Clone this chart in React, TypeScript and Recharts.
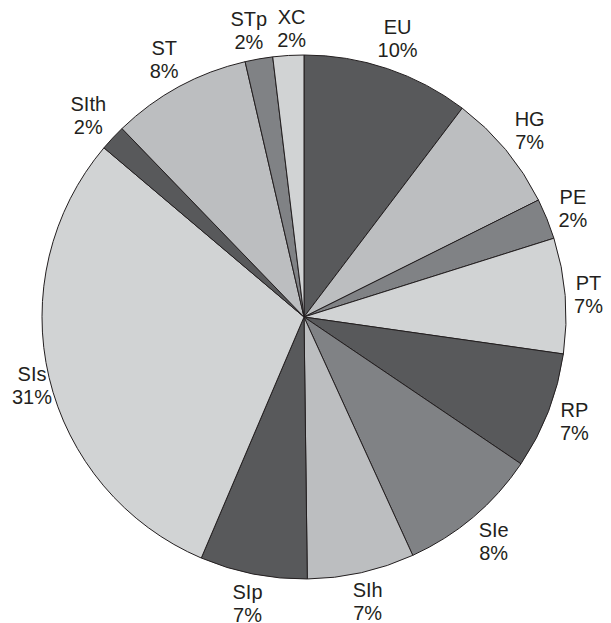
import React from "react";
import { Cell, Pie, PieChart } from "recharts";

// sector shares (degrees / 3.6), clockwise from 12 o'clock
const categories = ["EU", "HG", "PE", "PT", "RP", "SIe", "SIh", "SIp", "SIs", "SIth", "ST", "STp", "XC"];
const shares = [10.3, 7.3, 2.5, 7.1, 7.2, 8.7, 6.6, 6.6, 29.7, 1.6, 8.6, 1.7, 1.9];
// percentages as printed in the labels
const percentLabels = ["10%", "7%", "2%", "7%", "7%", "8%", "7%", "7%", "31%", "2%", "8%", "2%", "2%"];

const colors = [
  "#58595b", "#bcbec0", "#808285", "#d1d3d4", "#58595b", "#808285", "#bcbec0",
  "#58595b", "#d1d3d4", "#58595b", "#bcbec0", "#808285", "#d1d3d4",
];

const data = categories.map((name, i) => ({ name, value: shares[i], pct: percentLabels[i] }));
const total = shares.reduce((a, b) => a + b, 0);

const W = 611;
const H = 623;
const FONT = "20px 'Liberation Sans', Arial, sans-serif";
const RADIAN = Math.PI / 180;
const LABEL_H = 38;

let ctx: CanvasRenderingContext2D | null = null;
const textWidth = (s: string) => {
  if (!ctx) ctx = document.createElement("canvas").getContext("2d");
  if (!ctx) return s.length * 11;
  ctx.font = FONT;
  return ctx.measureText(s).width;
};

const labelWidth = (i: number) => Math.max(textWidth(data[i].name), textWidth(data[i].pct));

// label box sits just outside the rim, kept inside the chart area
const basePos = (i: number, midAngle: number, cx: number, cy: number, R: number) => {
  const ux = Math.cos(-midAngle * RADIAN);
  const uy = Math.sin(-midAngle * RADIAN);
  const w = labelWidth(i);
  const r = R + 7.5 + (w / 2) * Math.abs(ux) + (LABEL_H / 2) * Math.abs(uy);
  const x = Math.min(Math.max(cx + r * ux, w / 2 + 12), W - w / 2 - 8);
  return { x, y: cy + r * uy, w };
};

const renderLabel = (props: any) => {
  const { cx, cy, midAngle, outerRadius, index } = props;
  const n = data.length;
  const own = basePos(index, midAngle, cx, cy, outerRadius);
  let x = own.x;
  // push apart from neighbouring labels that would collide
  [-1, 1].forEach((step) => {
    const j = (index + step + n) % n;
    const half = ((shares[index] + shares[j]) / 2 / total) * 360;
    const other = basePos(j, midAngle - step * half, cx, cy, outerRadius);
    if (Math.abs(other.y - own.y) >= LABEL_H) return;
    const overlap = own.w / 2 + other.w / 2 + 10 - Math.abs(own.x - other.x);
    if (overlap > 0) x += (own.x < other.x ? -1 : 1) * (overlap / 2);
  });
  const y = own.y;
  return (
    <text
      x={x}
      y={y}
      textAnchor="middle"
      fill="#231f20"
      fontSize={20}
      fontFamily="'Liberation Sans', Arial, sans-serif"
    >
      <tspan x={x} dy={-4}>{data[index].name}</tspan>
      <tspan x={x} dy={23}>{data[index].pct}</tspan>
    </text>
  );
};

const App: React.FC = () => {
  return (
    <div style={{ position: "absolute", left: 0, top: 0, width: W, height: H }}>
      <PieChart width={W} height={H} margin={{ top: 0, right: 0, bottom: 0, left: 0 }}>
        <Pie
          data={data}
          dataKey="value"
          nameKey="name"
          cx={304}
          cy={317}
          outerRadius={262}
          startAngle={90}
          endAngle={-270}
          stroke="#231f20"
          strokeWidth={1}
          labelLine={false}
          label={renderLabel}
          isAnimationActive={false}
        >
          {data.map((entry, index) => (
            <Cell key={`cell-${index}`} fill={colors[index]} />
          ))}
        </Pie>
      </PieChart>
    </div>
  );
};

export default App;
